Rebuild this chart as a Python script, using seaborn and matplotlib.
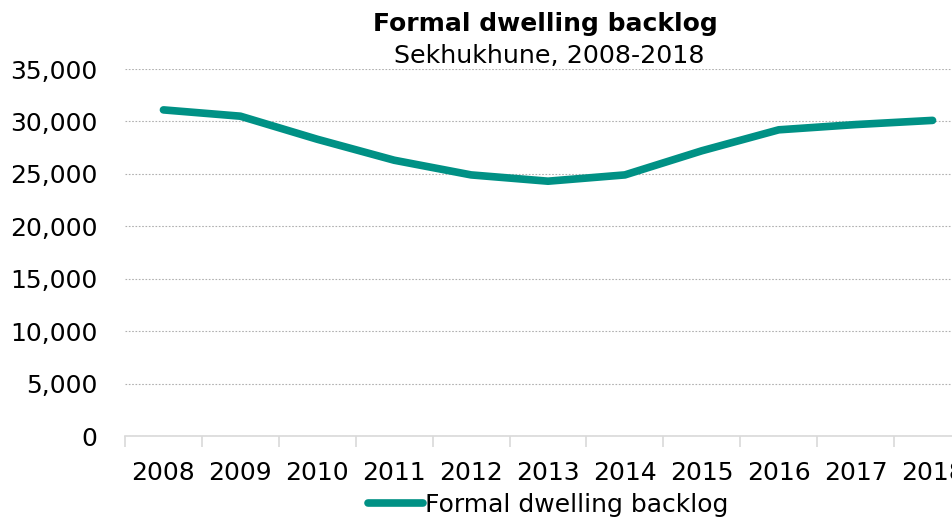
import numpy as np
import pandas as pd
import matplotlib.pyplot as plt
import seaborn as sns

# Dados
anos = ["2008", "2009", "2010", "2011", "2012", "2013", "2014", "2015", "2016", "2017", "2018"]
backlog = [31100, 30500, 28300, 26300, 24900, 24300, 24900, 27200, 29200, 29700, 30100]
serie = "Formal dwelling backlog"

dados = pd.DataFrame({"ano": anos, "valor": backlog, "serie": serie})

sns.set_style("white")
plt.rcParams["font.family"] = ["DejaVu Sans"]
plt.rcParams["text.color"] = "black"
plt.rcParams["xtick.color"] = "black"
plt.rcParams["ytick.color"] = "black"

fig = plt.figure(figsize=(9.53, 5.19), dpi=100)
ax = fig.add_axes([125 / 953, 83 / 519, 846 / 953, 367 / 519])

sns.lineplot(data=dados, x="ano", y="valor", hue="serie", palette=["#009185"],
             linewidth=5.5, ax=ax, legend=True)
for l in ax.lines:
    l.set_solid_capstyle("round")

ax.set_xlim(-0.5, len(anos) - 0.5)
ax.set_ylim(0, 35000)
ax.set_yticks(np.arange(0, 35001, 5000))
ax.set_yticklabels([f"{v:,}" for v in range(0, 35001, 5000)])
ax.set_xlabel("")
ax.set_ylabel("")

# Grade pontilhada
ax.yaxis.grid(True, linestyle=(0, (1.5, 1.5)), color="#b0b0b0", linewidth=0.8)
ax.set_axisbelow(True)

for lado in ["top", "right", "left"]:
    ax.spines[lado].set_visible(False)
ax.spines["bottom"].set_color("#d9d9d9")
ax.spines["bottom"].set_linewidth(1.2)

# Ticks do eixo x entre as categorias
ax.set_xticks(np.arange(len(anos)))
ax.set_xticklabels(anos)
ax.set_xticks(np.arange(-0.5, len(anos)), minor=True)
ax.tick_params(axis="x", which="major", bottom=False, length=0, pad=18, labelsize=18)
ax.tick_params(axis="x", which="minor", bottom=True, length=8, color="#d9d9d9", width=1.2)
ax.tick_params(axis="y", length=0, pad=20, labelsize=18)

# Títulos
fig.text(545 / 953, 1 - 24 / 519, "Formal dwelling backlog", ha="center", va="center",
         fontsize=18, fontweight="bold")
fig.text(549 / 953, 1 - 56 / 519, "Sekhukhune, 2008-2018", ha="center", va="center",
         fontsize=18.3)

# Legenda
ax.legend(loc="center", bbox_to_anchor=(0.5, -(505 - 436) / 367), frameon=False,
          fontsize=18, handlelength=2.2, handletextpad=0.1, borderaxespad=0)

plt.savefig("out.png", dpi=100)
